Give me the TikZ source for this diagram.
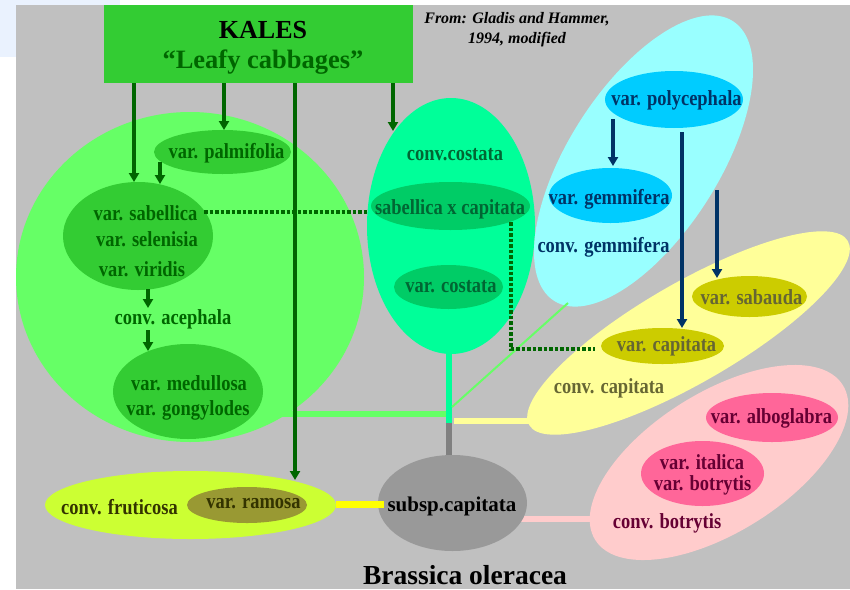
\documentclass[tikz,border=0pt]{standalone}
\usepackage{fontspec}
\setmainfont{Liberation Serif}
\newfontfamily\lblf{Liberation Serif}[FakeStretch=0.86]
\usetikzlibrary{shapes.geometric,arrows.meta}
\pgfdeclarelayer{bgl}
\pgfdeclarelayer{under}
\pgfsetlayers{bgl,under,main}
\definecolor{bggray}{HTML}{C0C0C0}
\definecolor{paleblue}{HTML}{EAF2FE}
\definecolor{kgreen}{HTML}{33CC33}
\definecolor{lgreen}{HTML}{66FF66}
\definecolor{dkgreen}{HTML}{006600}
\definecolor{costc}{HTML}{00FF99}
\definecolor{costin}{HTML}{00CC66}
\definecolor{costtxt}{HTML}{006633}
\definecolor{gemc}{HTML}{99FFFF}
\definecolor{gemin}{HTML}{00CCFF}
\definecolor{navyc}{HTML}{003366}
\definecolor{capc}{HTML}{FFFF99}
\definecolor{capin}{HTML}{CCCC00}
\definecolor{captxt}{HTML}{666633}
\definecolor{botc}{HTML}{FFCCCC}
\definecolor{botin}{HTML}{FF6699}
\definecolor{bottxt}{HTML}{660033}
\definecolor{fruc}{HTML}{CCFF33}
\definecolor{ramc}{HTML}{999933}
\definecolor{frutxt}{HTML}{333300}
\definecolor{subc}{HTML}{999999}
\definecolor{stemgray}{HTML}{808080}
\definecolor{yelbar}{HTML}{FFFF00}
\begin{document}
\begin{tikzpicture}[x=1pt,y=-1pt,
  blob/.style={ellipse,draw=none,inner sep=0pt,outer sep=0pt},
  lbl/.style={inner sep=0pt,font=\lblf\bfseries\fontsize{21.5}{24}\selectfont},
  garrow/.style={draw=dkgreen,line width=4pt,-{Triangle[width=10pt,length=9pt]}},
  narrow/.style={draw=navyc,line width=4pt,-{Triangle[width=10pt,length=9pt]}},
  dotline/.style={draw=dkgreen,line width=3.5pt,dash pattern=on 3.5pt off 2pt},
  connbar/.style={line width=6.5pt}]
\useasboundingbox (0,0) rectangle (850,589);
\begin{pgfonlayer}{bgl}
\fill[white] (0,0) rectangle (850,589);
\fill[paleblue] (0,0) rectangle (120,57);
\fill[bggray] (16,5) rectangle (850,589);
\end{pgfonlayer}

% KALES box
\node[fill=kgreen,minimum width=309pt,minimum height=78pt,inner sep=0pt,outer sep=0pt] (kales) at (258.5,44) {};
\node[inner sep=0pt,font=\bfseries\fontsize{26}{30}\selectfont] (kalesT) at (263,30) {KALES};
\node[inner sep=0pt,text=dkgreen,font=\bfseries\fontsize{26.5}{30}\selectfont] (leafyT) at (263,62) {“Leafy cabbages”};
\node[inner sep=0pt,align=center,font=\bfseries\itshape\fontsize{16}{20}\selectfont] (src) at (517,30) {From: Gladis and Hammer,\\1994, modified};

% big groups
\node[blob,fill=lgreen,minimum width=348pt,minimum height=330pt] (circ) at (190,277) {};
\node[blob,fill=costc,minimum width=168pt,minimum height=256pt] (cost) at (451,226) {};
\node[blob,fill=gemc,minimum width=332pt,minimum height=150pt,rotate=57.4] (gemB) at (643.5,161) {};
\node[blob,fill=capc,minimum width=368pt,minimum height=100pt,rotate=30] (capB) at (688.5,333) {};
\node[blob,fill=botc,minimum width=292pt,minimum height=140pt,rotate=32] (botB) at (719,462.5) {};
\node[blob,fill=fruc,minimum width=291pt,minimum height=68pt] (fru) at (190.5,505) {};
\node[blob,fill=subc,minimum width=149pt,minimum height=96pt] (sub) at (452.5,503) {};

% inner ellipses
\node[blob,fill=kgreen,minimum width=137pt,minimum height=44pt] (palm) at (222.5,152) {};
\node[blob,fill=kgreen,minimum width=150pt,minimum height=108pt] (sab) at (138,236) {};
\node[blob,fill=kgreen,minimum width=150pt,minimum height=95pt] (med) at (188,391.5) {};
\node[blob,fill=costin,minimum width=159pt,minimum height=48pt] (sxc) at (450.5,206) {};
\node[blob,fill=costin,minimum width=109pt,minimum height=44pt] (vcos) at (448.5,287) {};
\node[blob,fill=gemin,minimum width=138pt,minimum height=57pt] (poly) at (674,99.5) {};
\node[blob,fill=gemin,minimum width=123pt,minimum height=55pt] (gem) at (610.5,195.5) {};
\node[blob,fill=capin,minimum width=115pt,minimum height=41pt] (sabau) at (749.5,296.5) {};
\node[blob,fill=capin,minimum width=123pt,minimum height=36pt] (capi) at (662.5,346) {};
\node[blob,fill=botin,minimum width=132pt,minimum height=49pt] (albo) at (772,417.5) {};
\node[blob,fill=botin,minimum width=123pt,minimum height=65pt] (ital) at (702.5,473.5) {};
\node[blob,fill=ramc,minimum width=120pt,minimum height=36pt] (ram) at (247,505) {};

% texts
\node[lbl,text=dkgreen] (palmT) at (226.5,153) {var. palmifolia};
\node[lbl,text=dkgreen] (sabT1) at (145.5,213) {var. sabellica};
\node[lbl,text=dkgreen] (sabT2) at (147,239) {var. selenisia};
\node[lbl,text=dkgreen] (sabT3) at (142,269) {var. viridis};
\node[lbl,text=dkgreen] (aceph) at (173,319) {conv. acephala};
\node[lbl,text=dkgreen] (medT1) at (189,383) {var. medullosa};
\node[lbl,text=dkgreen] (medT2) at (188,410) {var. gongylodes};
\node[lbl,text=costtxt] (costT) at (455,155) {conv.costata};
\node[lbl,text=costtxt] (sxcT) at (450,209) {sabellica x capitata};
\node[lbl,text=costtxt] (vcosT) at (451,287) {var. costata};
\node[lbl,text=navyc] (polyT) at (676.5,100) {var. polycephala};
\node[lbl,text=navyc] (gemT) at (609,199) {var. gemmifera};
\node[lbl,text=navyc] (gemC) at (603.5,247) {conv. gemmifera};
\node[lbl,text=captxt] (sabauT) at (751.5,297) {var. sabauda};
\node[lbl,text=captxt] (capiT) at (666.5,346) {var. capitata};
\node[lbl,text=captxt] (capC) at (609,388) {conv. capitata};
\node[lbl,text=bottxt] (alboT) at (771.5,418) {var. alboglabra};
\node[lbl,text=bottxt] (italT1) at (702,462.5) {var. italica};
\node[lbl,text=bottxt] (italT2) at (702.5,485.5) {var. botrytis};
\node[lbl,text=bottxt] (botC) at (667,523) {conv. botrytis};
\node[lbl,text=frutxt] (fruC) at (119.5,507) {conv. fruticosa};
\node[lbl,text=frutxt] (ramT) at (253.5,504) {var. ramosa};
\node[inner sep=0pt,font=\bfseries\fontsize{21}{24}\selectfont] (subT) at (452,506) {subsp.capitata};
\node[inner sep=0pt,font=\bfseries\fontsize{27.5}{30}\selectfont] (title) at (465,575) {Brassica oleracea};

% connector coordinates
\coordinate (k1) at (134,83);
\coordinate (k2) at (224,83);
\coordinate (k3) at (295,83);
\coordinate (t3) at (295,480);
\coordinate (k4) at (393,83);
\coordinate (t4) at (393,131);
\coordinate (p1) at (160,162);
\coordinate (p2) at (160,184);
\coordinate (s1) at (148,289);
\coordinate (s2) at (148,308);
\coordinate (a1) at (148,330);
\coordinate (a2) at (148,351);
\coordinate (d1) at (204,212);
\coordinate (d2) at (367,212);
\coordinate (d3) at (511,222);
\coordinate (d4) at (511,349);
\coordinate (d5) at (595,349);
\coordinate (n1) at (613,119);
\coordinate (n2) at (613,166);
\coordinate (n3) at (682,132);
\coordinate (n4) at (682,328);
\coordinate (n5) at (717,190);
\coordinate (n6) at (717,278);
\coordinate (gL) at (270,414);
\coordinate (gR) at (449,414);
\coordinate (stTop) at (449,345);
\coordinate (junc) at (449,423);
\coordinate (stBot) at (449,462);
\coordinate (yL) at (454,421);
\coordinate (yR) at (545,421);
\coordinate (dg1) at (452,407);
\coordinate (dg2) at (568,303);
\coordinate (pkL) at (500,519);
\coordinate (pkR) at (600,519);
\coordinate (frR) at (336,504);
\coordinate (sbL) at (384,504);

% connectors under the shapes
\begin{pgfonlayer}{under}
\draw[connbar,lgreen] (gL) -- (gR);
\draw[connbar,costc,line width=6pt] (stTop) -- (junc);
\draw[connbar,stemgray,line width=6pt] (junc) -- (stBot);
\draw[connbar,capc,line width=6pt] (yL) -- (yR);
\draw[connbar,botc,line width=6pt] (pkL) -- (pkR);
\end{pgfonlayer}

% connectors on top
\draw[lgreen,line width=2pt] (dg1) -- (dg2);
\draw[connbar,yelbar,line width=7pt] (frR) -- (sbL);
\draw[dotline] (d1) -- (d2);
\draw[dotline] (d3) -- (d4) -- (d5);
\draw[garrow] (k1) -- (k1 |- sab.north);
\draw[garrow] (k2) -- (k2 |- palm.north);
\draw[garrow] (k3) -- (t3);
\draw[garrow] (k4) -- (t4);
\draw[garrow] (p1) -- (p2);
\draw[garrow] (s1) -- (s2);
\draw[garrow] (a1) -- (a2);
\draw[narrow] (n1) -- (n2);
\draw[narrow] (n3) -- (n4);
\draw[narrow] (n5) -- (n6);
\end{tikzpicture}
\end{document}
